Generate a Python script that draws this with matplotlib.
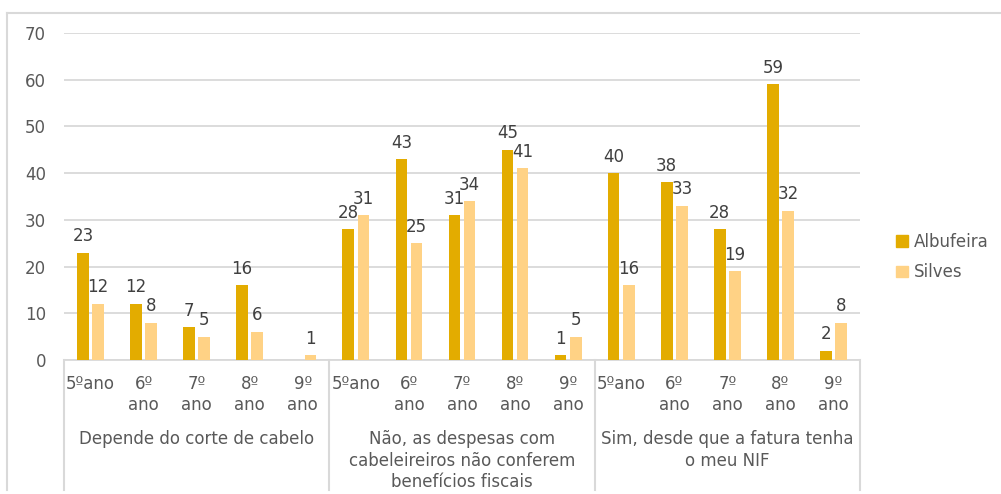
import numpy as np
from matplotlib import pyplot as plt
from matplotlib.lines import Line2D
from matplotlib.patches import Patch

plt.rcParams['font.family'] = ['DejaVu Sans']

grupos = ["Depende do corte de cabelo",
          "Não, as despesas com\ncabeleireiros não conferem\nbenefícios fiscais",
          "Sim, desde que a fatura tenha\no meu NIF"]
anos = ["5ºano", "6º\nano", "7º\nano", "8º\nano", "9º\nano"]
albufeira = [23, 12, 7, 16, 0, 28, 43, 31, 45, 1, 40, 38, 28, 59, 2]
silves = [12, 8, 5, 6, 1, 31, 25, 34, 41, 5, 16, 33, 19, 32, 8]

cor_alb = '#E3AC00'
cor_sil = '#FFD285'
cinza = '#595959'
linha = '#D9D9D9'
fs = 12

fig = plt.figure(figsize=(10.01, 4.94), dpi=100)
ax = fig.add_axes([64/1001, 134/494, 796/1001, 327/494])

n = len(albufeira)
x = np.arange(n) + 0.5
w = 0.22
ax.bar(x - 0.143, albufeira, w, color=cor_alb, label='Albufeira', zorder=3)
ax.bar(x + 0.143, silves, w, color=cor_sil, label='Silves', zorder=3)

for xi, a, s in zip(x, albufeira, silves):
    if a:
        ax.text(xi - 0.143, a + 1.6, str(a), ha='center', va='bottom', fontsize=fs, color='#404040')
    if s:
        ax.text(xi + 0.143, s + 1.6, str(s), ha='center', va='bottom', fontsize=fs, color='#404040')

ax.set_xlim(0, n)
ax.set_ylim(0, 70)
ax.set_yticks(range(0, 71, 10))
ax.yaxis.grid(True, color=linha, linewidth=1.3, zorder=0)
ax.tick_params(axis='y', length=0, pad=13, labelsize=fs, labelcolor=cinza)
ax.set_xticks([])
for sp in ['top', 'right', 'left']:
    ax.spines[sp].set_visible(False)
ax.spines['bottom'].set_color(linha)
ax.spines['bottom'].set_linewidth(1.3)

tr = ax.get_xaxis_transform()
for i, lab in enumerate(anos * 3):
    ax.text(x[i], -0.045, lab, transform=tr, ha='center', va='top', fontsize=fs,
            color=cinza, linespacing=1.25)
for g, lab in enumerate(grupos):
    ax.text(g * 5 + 2.5, -0.215, lab, transform=tr, ha='center', va='top', fontsize=fs,
            color=cinza, linespacing=1.25)
for g in range(4):
    ax.add_line(Line2D([g * 5, g * 5], [0, -0.398], transform=tr, color=linha,
                       linewidth=1.5, clip_on=False))

# moldura parcial (só topo e esquerda visíveis)
fig.add_artist(Line2D([7/1001, 1.0], [1 - 13/494, 1 - 13/494], color=linha,
                      linewidth=1.5, transform=fig.transFigure))
fig.add_artist(Line2D([7/1001, 7/1001], [1 - 13/494, 1 - 490/494], color=linha,
                      linewidth=1.5, transform=fig.transFigure))

handles = [Patch(color=cor_alb), Patch(color=cor_sil)]
fig.legend(handles, ['Albufeira', 'Silves'], loc='center left',
           bbox_to_anchor=(881/1001, 1 - 257/494), frameon=False, fontsize=fs,
           labelcolor=cinza, handlelength=0.7, handleheight=0.7, handletextpad=0.4,
           labelspacing=0.75)

fig.savefig('out.png', dpi=100)
